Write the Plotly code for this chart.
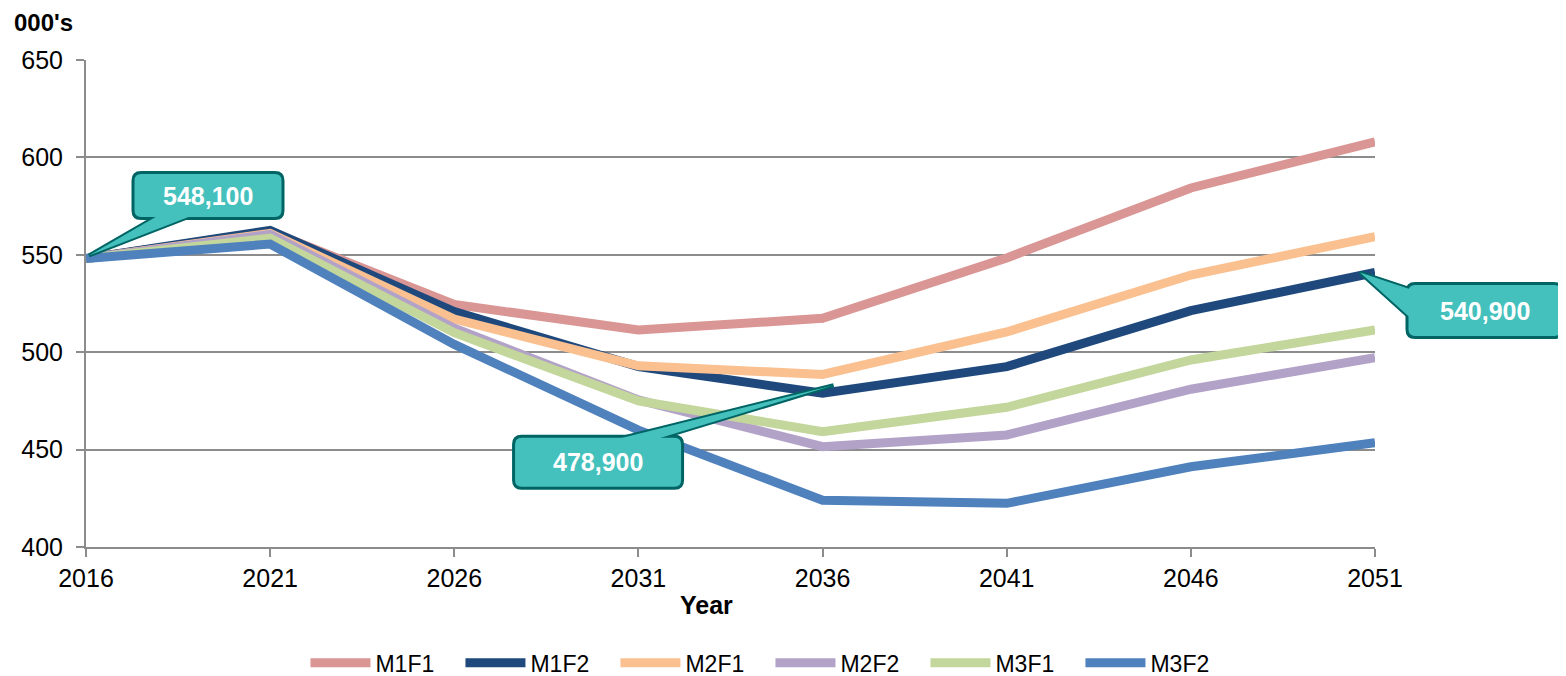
import plotly.graph_objects as go

years = [2016, 2021, 2026, 2031, 2036, 2041, 2046, 2051]

m1f1 = [548.1, 562.0, 524.5, 511.4, 517.4, 548.4, 584.3, 608.0]
m1f2 = [548.1, 562.5, 520.8, 492.6, 478.9, 492.6, 521.3, 540.9]
m2f1 = [548.1, 561.0, 517.0, 493.0, 488.6, 510.4, 539.6, 559.3]
m2f2 = [548.1, 560.5, 512.3, 475.5, 451.5, 457.5, 481.0, 497.2]
m3f1 = [548.1, 558.5, 510.0, 475.0, 459.2, 471.7, 496.0, 511.4]
m3f2 = [548.1, 555.5, 504.0, 460.0, 424.0, 422.4, 441.2, 453.5]

series = {
    "M1F1": (m1f1, "#D99694"),
    "M1F2": (m1f2, "#1F497D"),
    "M2F1": (m2f1, "#FAC090"),
    "M2F2": (m2f2, "#B3A2C7"),
    "M3F1": (m3f1, "#C3D69B"),
    "M3F2": (m3f2, "#4F81BD"),
}

# callouts: (year, value, label)
callouts = [
    (2016, 548.1, "548,100"),
    (2036, 478.9, "478,900"),
    (2051, 540.9, "540,900"),
]

X_RANGE = [2016, 2051]
Y_RANGE = [400, 650]

FONT = "Liberation Sans, Arial, sans-serif"
TEAL = "#45C1BD"
DARK_TEAL = "#006464"
GRID = "#8C8C8C"


def rounded_box(x0, x1, y0, y1, r=8):
    return ("M%g,%g L%g,%g Q%g,%g %g,%g L%g,%g Q%g,%g %g,%g "
            "L%g,%g Q%g,%g %g,%g L%g,%g Q%g,%g %g,%g Z" % (
                x0 + r, y0, x1 - r, y0, x1, y0, x1, y0 + r,
                x1, y1 - r, x1, y1, x1 - r, y1,
                x0 + r, y1, x0, y1, x0, y1 - r,
                x0, y0 + r, x0, y0, x0 + r, y0))


fig = go.Figure()
for name, (vals, col) in series.items():
    fig.add_trace(go.Scatter(
        x=years, y=vals, name=name, mode="lines",
        line=dict(color=col, width=9),
    ))

# callout geometry in pixels relative to the data point (y up)
box_px = [(47, 197, 40, 86), (-309, -140, -95, -43), (32, 187, -65, -11)]
wedge_px = [
    "M3,3 L74,44 L109,44 Z",
    "M11,8 L-210,-47 L-170,-47 Z",
    "M-15,0 L36,-17 L36,-46 Z",
]

for (yr, val, lab), (x0, x1, y0, y1), wedge in zip(callouts, box_px, wedge_px):
    # paper refs so the callout is not clipped to the plot area
    px = (yr - X_RANGE[0]) / (X_RANGE[1] - X_RANGE[0])
    py = (val - Y_RANGE[0]) / (Y_RANGE[1] - Y_RANGE[0])
    common = dict(xref="paper", yref="paper", xsizemode="pixel", ysizemode="pixel",
                  xanchor=px, yanchor=py, layer="above")
    fig.add_shape(type="path", path=wedge, fillcolor=TEAL,
                  line=dict(color=DARK_TEAL, width=4), **common)
    fig.add_shape(type="path", path=rounded_box(x0, x1, y0, y1), fillcolor=TEAL,
                  line=dict(color=DARK_TEAL, width=3), **common)
    fig.add_shape(type="path", path=wedge, fillcolor=TEAL,
                  line=dict(width=0), **common)
    fig.add_annotation(
        x=yr, y=val, xref="x", yref="y", text="<b>%s</b>" % lab,
        showarrow=False, xshift=(x0 + x1) / 2, yshift=(y0 + y1) / 2,
        font=dict(family=FONT, size=25, color="white"),
    )

fig.add_annotation(
    text="<b>000's</b>", xref="paper", yref="paper", x=-0.0574, y=1.078,
    xanchor="left", yanchor="middle", showarrow=False,
    font=dict(family=FONT, size=24, color="black"),
)
fig.add_annotation(
    text="<b>Year</b>", xref="paper", yref="paper", x=0.481, y=-0.12,
    xanchor="center", yanchor="middle", showarrow=False,
    font=dict(family=FONT, size=25, color="black"),
)

fig.update_layout(
    width=1558, height=668,
    margin=dict(l=78, r=191, t=52, b=129, autoexpand=False),
    plot_bgcolor="white", paper_bgcolor="white",
    font=dict(family=FONT, size=25, color="black"),
    showlegend=True,
    legend=dict(
        orientation="h", x=0.531, xanchor="center",
        y=-0.238, yanchor="middle", font=dict(size=23), itemwidth=60,
        traceorder="normal", entrywidth=80,
    ),
    xaxis=dict(
        range=X_RANGE, tickvals=years, showgrid=False,
        showline=True, linecolor=GRID, linewidth=2,
        ticks="outside", ticklen=8, tickcolor=GRID, tickwidth=2,
        zeroline=False,
    ),
    yaxis=dict(
        range=Y_RANGE, dtick=50, showgrid=True, gridcolor=GRID, gridwidth=2,
        showline=True, linecolor=GRID, linewidth=2,
        ticks="outside", ticklen=8, tickcolor=GRID, tickwidth=2,
        ticklabelstandoff=8, zeroline=False,
    ),
)

fig.write_html("out.html")
